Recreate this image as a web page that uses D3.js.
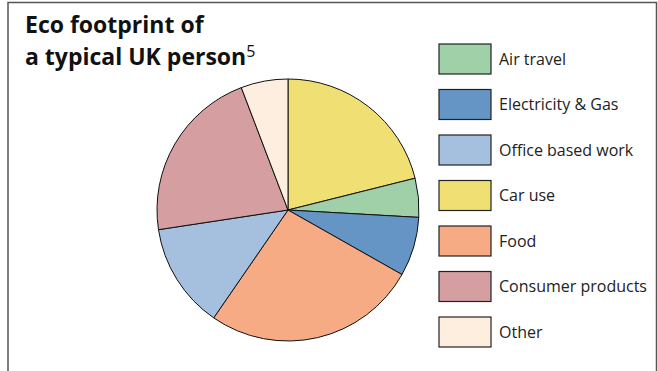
<!doctype html>
<html>
<head>
<style>
  body { margin: 0; background: #fff; }
  svg text { font-family: "Open Sans", "DejaVu Sans", sans-serif; }
</style>
<script src="https://d3js.org/d3.v7.min.js"></script>
</head>
<body>
<svg id="chart" width="658" height="371"></svg>
<script>
// pie slices, clockwise from 12 o'clock (percent of footprint)
var slices = ["Car use", "Air travel", "Electricity & Gas", "Food", "Office based work", "Consumer products", "Other"];
var shares = [21.1, 4.8, 7.3, 26.4, 13.0, 21.6, 5.8];

// legend order as printed
var legendItems = ["Air travel", "Electricity & Gas", "Office based work", "Car use", "Food", "Consumer products", "Other"];
var legendColors = ["#9fd0a8", "#6595c4", "#a4c0de", "#f0df73", "#f6ab85", "#d59ea1", "#feeee0"];

var svg = d3.select("#chart");

// frame (open at the bottom)
svg.append("path")
   .attr("d", "M8,371 V2.5 H656.5 V371")
   .attr("fill", "none")
   .attr("stroke", "#555")
   .attr("stroke-width", 1.5);

// title
var title = svg.append("g").attr("fill", "#111");
title.append("text")
     .attr("x", 25).attr("y", 33)
     .attr("font-size", "23px").attr("font-weight", "bold")
     .text("Eco footprint of");
var t2 = title.append("text")
     .attr("x", 25).attr("y", 65)
     .attr("font-size", "23px").attr("font-weight", "bold");
t2.append("tspan").text("a typical UK person");
t2.append("tspan").attr("dy", -8).attr("font-weight", "normal").attr("font-size", "16px").text("5");

var color = d3.scaleOrdinal().domain(legendItems).range(legendColors);

// pie
var cx = 288, cy = 210, r = 131;
var pie = d3.pie().sort(null).value(function(d, i) { return shares[i]; });
var arc = d3.arc().innerRadius(0).outerRadius(r);

svg.append("g")
   .attr("transform", "translate(" + cx + "," + cy + ")")
   .selectAll("path")
   .data(pie(slices))
   .enter().append("path")
   .attr("d", arc)
   .attr("fill", function(d) { return color(d.data); })
   .attr("stroke", "#111")
   .attr("stroke-width", 1);

// legend
var y = d3.scaleBand().domain(legendItems).range([44, 44 + 45.5 * 7]);
var lg = svg.append("g").selectAll("g")
   .data(legendItems)
   .enter().append("g")
   .attr("transform", function(d) { return "translate(439," + y(d) + ")"; });

lg.append("rect")
  .attr("width", 52).attr("height", 30)
  .attr("fill", function(d) { return color(d); })
  .attr("stroke", "#222")
  .attr("stroke-width", 1.2);

lg.append("text")
  .attr("x", 60).attr("y", 15).attr("dy", "0.35em")
  .attr("font-size", "16px")
  .attr("fill", "#222")
  .text(function(d) { return d; });
</script>
</body>
</html>
